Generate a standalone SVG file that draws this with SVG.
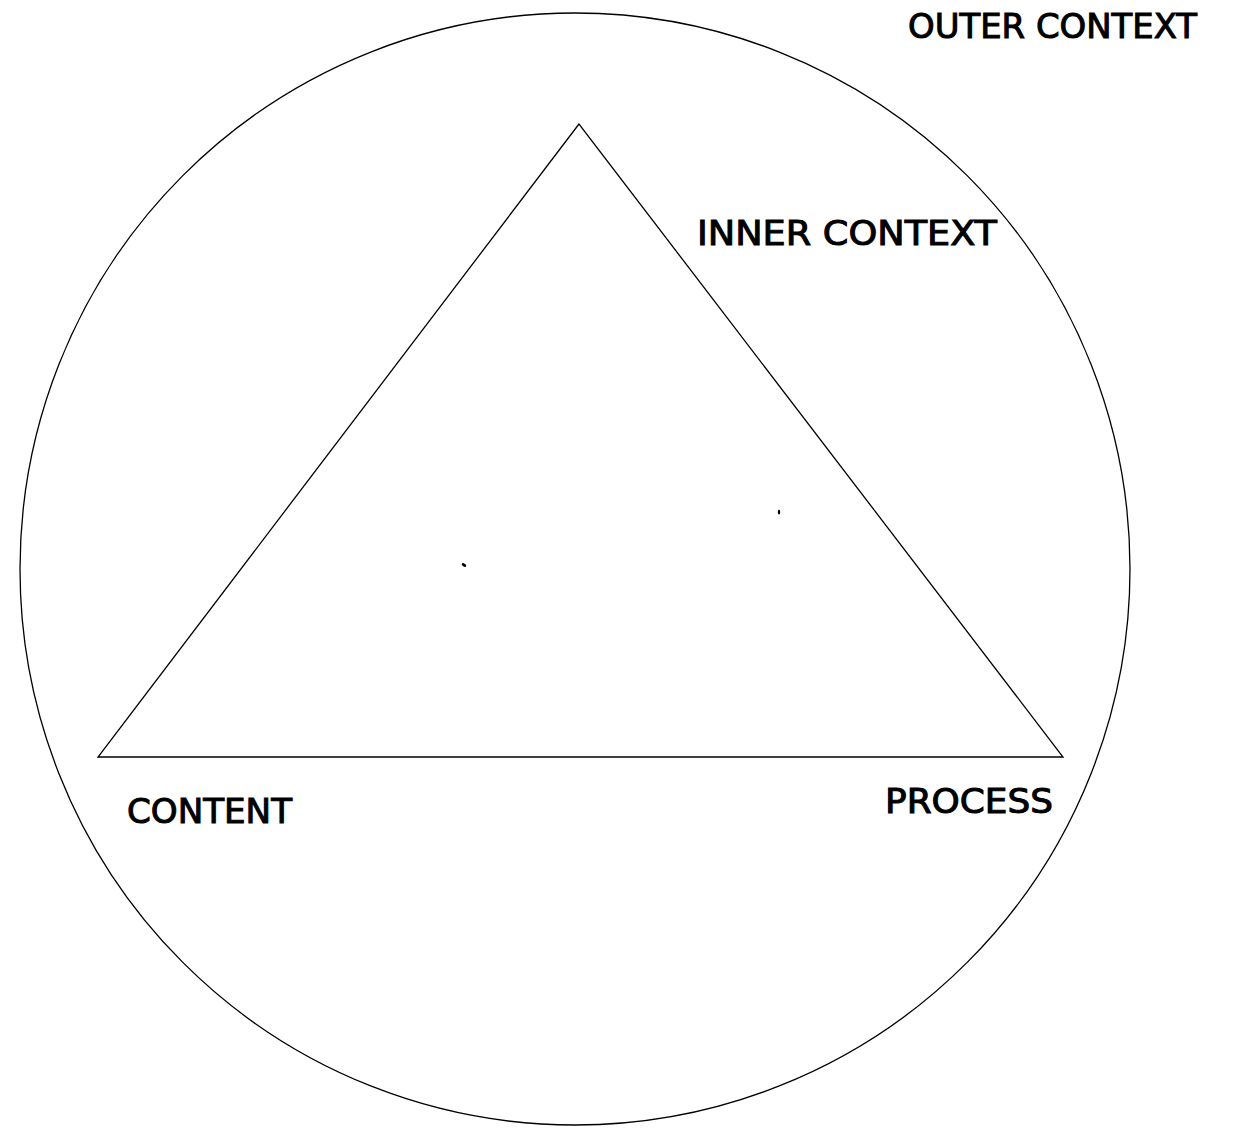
<svg xmlns="http://www.w3.org/2000/svg" width="1235" height="1128" viewBox="0 0 1235 1128">
<style>
.ln{fill:none;stroke:#000;stroke-width:1.3}
.lb{font-family:"DejaVu Sans","Liberation Sans",sans-serif;font-size:33px;fill:#000;stroke:#000;stroke-width:1}
</style>
<rect width="1235" height="1128" fill="#fff"/>
<g id="outer-context">
<ellipse class="ln" cx="575" cy="569" rx="555" ry="556"/>
<text class="lb" x="908" y="38" textLength="289" lengthAdjust="spacingAndGlyphs">OUTER CONTEXT</text>
</g>
<g id="inner-context">
<polygon class="ln" points="579,124 98,757 1063,757"/>
<text class="lb" x="697" y="245" textLength="300" lengthAdjust="spacingAndGlyphs">INNER CONTEXT</text>
</g>
<g id="content">
<text class="lb" x="127" y="823" textLength="165" lengthAdjust="spacingAndGlyphs">CONTENT</text>
</g>
<g id="process">
<text class="lb" x="885" y="813" font-size="36" textLength="168" lengthAdjust="spacingAndGlyphs">PROCESS</text>
</g>
<g id="connectors"></g>
<g id="specks" fill="#000">
<ellipse cx="464" cy="565" rx="2.5" ry="1.5" transform="rotate(30 464 565)"/>
<ellipse cx="779" cy="512" rx="1.2" ry="2.5"/>
</g>
</svg>
